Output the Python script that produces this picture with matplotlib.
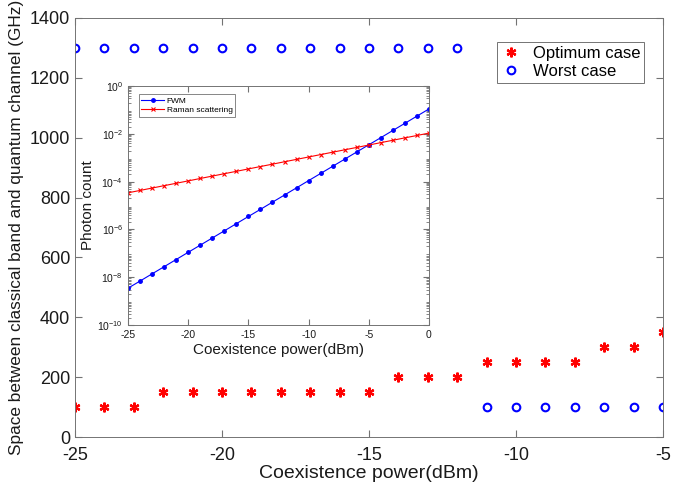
import numpy as np
import matplotlib.pyplot as plt
from matplotlib.ticker import LogLocator, NullFormatter

plt.rcParams['font.family'] = ['Liberation Sans', 'DejaVu Sans']
plt.rcParams['mathtext.fontset'] = 'custom'
plt.rcParams['mathtext.rm'] = 'Liberation Sans'
plt.rcParams['axes.unicode_minus'] = False

# main plot: channel spacing vs coexistence power
power = [-25, -24, -23, -22, -21, -20, -19, -18, -17, -16, -15,
         -14, -13, -12, -11, -10, -9, -8, -7, -6, -5]
optimum = [100, 100, 100, 150, 150, 150, 150, 150, 150, 150, 150,
           200, 200, 200, 250, 250, 250, 250, 300, 300, 350]
worst = [1300, 1300, 1300, 1300, 1300, 1300, 1300, 1300, 1300, 1300, 1300,
         1300, 1300, 1300, 100, 100, 100, 100, 100, 100, 100]

# inset: photon counts vs coexistence power
inset_power = [-25, -24, -23, -22, -21, -20, -19, -18, -17, -16, -15, -14, -13,
               -12, -11, -10, -9, -8, -7, -6, -5, -4, -3, -2, -1, 0]
fwm = [3.47e-9, 6.9e-9, 1.38e-8, 2.75e-8, 5.5e-8, 1.1e-7, 2.19e-7, 4.37e-7,
       8.7e-7, 1.74e-6, 3.47e-6, 6.9e-6, 1.38e-5, 2.75e-5, 5.5e-5, 1.1e-4,
       2.19e-4, 4.37e-4, 8.7e-4, 1.74e-3, 3.47e-3, 6.9e-3, 1.38e-2, 2.75e-2,
       5.5e-2, 1.1e-1]
raman = [3.39e-5, 4.27e-5, 5.37e-5, 6.76e-5, 8.51e-5, 1.07e-4, 1.35e-4,
         1.70e-4, 2.14e-4, 2.69e-4, 3.39e-4, 4.27e-4, 5.37e-4, 6.76e-4,
         8.51e-4, 1.07e-3, 1.35e-3, 1.70e-3, 2.14e-3, 2.69e-3, 3.39e-3,
         4.27e-3, 5.37e-3, 6.76e-3, 8.51e-3, 1.07e-2]

box_col = '0.45'
txt_col = '0.1'

def matlab_style(ax, labelsize):
    for s in ax.spines.values():
        s.set_color(box_col)
        s.set_linewidth(0.7)
    ax.tick_params(which='both', direction='in', top=True, right=True,
                   color=box_col, labelsize=labelsize, labelcolor=txt_col)

fig = plt.figure(figsize=(6.81, 4.87), dpi=100)

ax = fig.add_axes([75/681, 50/487, 588/681, 419/487])
ax.plot(power, optimum, linestyle='none', marker=(6, 2, 0), color='red',
        markeredgewidth=1.6, markersize=7, label='Optimum case')
ax.plot(power, worst, linestyle='none', marker='o', markerfacecolor='none',
        markeredgecolor='blue', markeredgewidth=1.5, markersize=5.5,
        label='Worst case')
ax.set_xlim(-25, -5)
ax.set_ylim(0, 1400)
ax.set_xticks([-25, -20, -15, -10, -5])
ax.set_yticks(np.arange(0, 1401, 200))
matlab_style(ax, 13)
ax.tick_params(length=5)
ax.tick_params(axis='x', pad=7)
ax.set_xlabel('Coexistence power(dBm)', fontsize=14, color=txt_col, labelpad=1)
ax.set_ylabel('Space between classical band and quantum channel (GHz)',
              fontsize=12.4, color=txt_col, labelpad=4)
leg = ax.legend(loc='upper right', bbox_to_anchor=(0.968, 0.943), fontsize=12,
                fancybox=False, framealpha=1, edgecolor=box_col,
                borderaxespad=0, borderpad=0.25, handlelength=1.2,
                handletextpad=0.7, labelspacing=0.15)
leg.get_frame().set_linewidth(0.7)

# inset axes
ins = fig.add_axes([128/681, 162/487, 301/681, 239/487])
ins.semilogy(inset_power, fwm, color='blue', marker='.', markersize=5,
             linewidth=0.8, label='FWM')
ins.semilogy(inset_power, raman, color='red', marker='x', markersize=3,
             markeredgewidth=0.8, linewidth=0.8, label='Raman scattering')
ins.set_xlim(-25, 0)
ins.set_ylim(1e-10, 1)
ins.set_xticks([-25, -20, -15, -10, -5, 0])
ins.set_yticks([1e-10, 1e-8, 1e-6, 1e-4, 1e-2, 1])
ins.set_yticklabels([r'$10^{-10}$', r'$10^{-8}$', r'$10^{-6}$',
                     r'$10^{-4}$', r'$10^{-2}$', r'$10^{0}$'])
ins.yaxis.set_minor_locator(LogLocator(base=10, subs=np.arange(2, 10), numticks=20))
ins.yaxis.set_minor_formatter(NullFormatter())
matlab_style(ins, 7.5)
ins.tick_params(which='major', length=4)
ins.tick_params(which='minor', length=2)
ins.set_xlabel('Coexistence power(dBm)', fontsize=11, color=txt_col, labelpad=2)
ins.set_ylabel('Photon count', fontsize=11, color=txt_col, labelpad=2)
ileg = ins.legend(loc='upper left', bbox_to_anchor=(0.035, 0.965), fontsize=6,
                  fancybox=False, framealpha=1, edgecolor=box_col,
                  borderaxespad=0, borderpad=0.3, handlelength=2.8,
                  handletextpad=0.3, labelspacing=0.2)
ileg.get_frame().set_linewidth(0.6)

fig.savefig('out.png', dpi=100)
